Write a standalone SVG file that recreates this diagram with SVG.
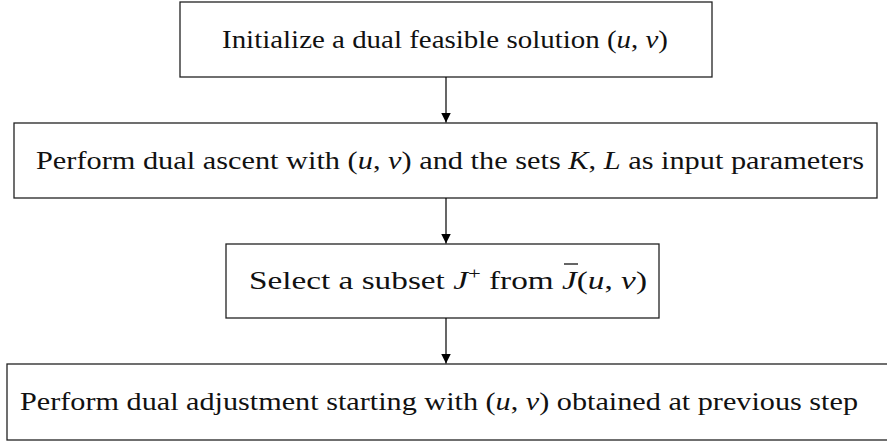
<svg xmlns="http://www.w3.org/2000/svg" width="887" height="443" viewBox="0 0 887 443">
<style>
.box{fill:#fff;stroke:#222;stroke-width:1.3}
text{font-family:'Liberation Serif','Times New Roman',Tinos,'DejaVu Serif',serif;font-size:25px;fill:#111;text-anchor:middle}
.m{font-style:italic}
.s{font-family:'Liberation Serif',serif;font-style:italic}
.edge{stroke:#000;stroke-width:1.2;fill:none}
</style>
<defs>
<marker id="ah" viewBox="0 0 10 14" refX="10" refY="7" markerWidth="10" markerHeight="14" markerUnits="userSpaceOnUse" orient="auto">
<path d="M0,2 L10,7 L0,12 z" fill="#000"/>
</marker>
</defs>
<rect width="887" height="443" fill="#fff"/>
<g id="n1">
<rect class="box" x="180" y="2" width="532" height="75"/>
<text font-family="Liberation Serif, serif" font-size="25" x="445" y="48" textLength="446" lengthAdjust="spacingAndGlyphs">Initialize a dual feasible solution (<tspan class="m">u</tspan>, <tspan class="m">v</tspan>)</text>
</g>
<g id="n2">
<rect class="box" x="14" y="123" width="863" height="75"/>
<text font-family="Liberation Serif, serif" font-size="25" x="450" y="169" textLength="828" lengthAdjust="spacingAndGlyphs">Perform dual ascent with (<tspan class="m">u</tspan>, <tspan class="m">v</tspan>) and the sets <tspan class="s">K</tspan>, <tspan class="s">L</tspan> as input parameters</text>
</g>
<g id="n3">
<rect class="box" x="226" y="244" width="433" height="74"/>
<text font-family="Liberation Serif, serif" font-size="25" x="448" y="289" textLength="398" lengthAdjust="spacingAndGlyphs">Select a subset <tspan class="s">J</tspan><tspan dy="-10" font-size="17">+</tspan><tspan dy="10"> from </tspan><tspan class="s">J</tspan>(<tspan class="m">u</tspan>, <tspan class="m">v</tspan>)</text>
<line x1="564" y1="264" x2="578" y2="264" stroke="#111" stroke-width="1.3"/>
</g>
<g id="n4">
<rect class="box" x="7" y="364" width="885" height="76"/>
<text font-family="Liberation Serif, serif" font-size="25" x="439" y="410" textLength="838" lengthAdjust="spacingAndGlyphs">Perform dual adjustment starting with (<tspan class="m">u</tspan>, <tspan class="m">v</tspan>) obtained at previous step</text>
</g>
<g id="connectors">
<line class="edge" x1="446" y1="77" x2="446" y2="122.5" marker-end="url(#ah)"/>
<line class="edge" x1="446" y1="198" x2="446" y2="243.5" marker-end="url(#ah)"/>
<line class="edge" x1="446" y1="318" x2="446" y2="363.5" marker-end="url(#ah)"/>
</g>
</svg>
